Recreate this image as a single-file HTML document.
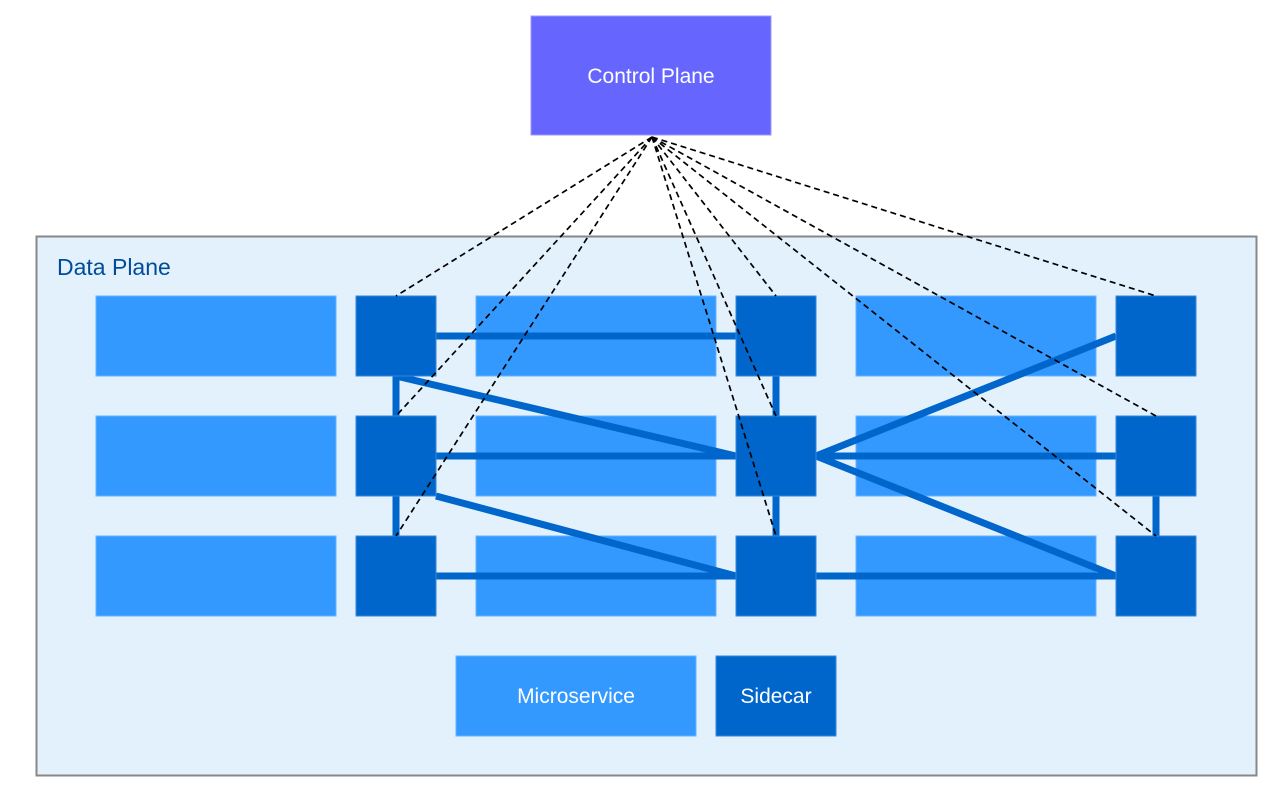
<!DOCTYPE html>
<html><head><meta charset="utf-8"><style>
body{margin:0;background:#fff;}
svg{display:block;}
text{font-family:"Liberation Sans",sans-serif;}
</style></head><body>
<svg width="1274" height="794" viewBox="0 0 1274 794" xmlns="http://www.w3.org/2000/svg">
<rect x="531" y="16" width="240" height="119" fill="#6666FF" stroke="#9999ff" stroke-width="1"/>
<text x="651" y="83" font-size="21" fill="#fff" text-anchor="middle">Control Plane</text>
<rect x="36.5" y="236.5" width="1220" height="539" fill="#E3F1FD" stroke="#888" stroke-width="2"/>
<text x="57" y="275" font-size="23" fill="#004C99">Data Plane</text>
<g fill="#3399FF" stroke="#66b3ff" stroke-width="1">
<rect x="96" y="296" width="240" height="80"/><rect x="476" y="296" width="240" height="80"/><rect x="856" y="296" width="240" height="80"/>
<rect x="96" y="416" width="240" height="80"/><rect x="476" y="416" width="240" height="80"/><rect x="856" y="416" width="240" height="80"/>
<rect x="96" y="536" width="240" height="80"/><rect x="476" y="536" width="240" height="80"/><rect x="856" y="536" width="240" height="80"/>
<rect x="456" y="656" width="240" height="80"/>
</g>
<g stroke="#0066CC" stroke-width="7" fill="none">
<line x1="436" y1="336" x2="736" y2="336"/>
<line x1="436" y1="456" x2="736" y2="456"/>
<line x1="816" y1="456" x2="1116" y2="456"/>
<line x1="436" y1="576" x2="736" y2="576"/>
<line x1="816" y1="576" x2="1116" y2="576"/>
<line x1="396" y1="376" x2="396" y2="536"/>
<line x1="776" y1="376" x2="776" y2="536"/>
<line x1="1156" y1="496" x2="1156" y2="536"/>
<line x1="396" y1="376" x2="736" y2="456"/>
<line x1="436" y1="496" x2="736" y2="576"/>
<line x1="816" y1="456" x2="1116" y2="336"/>
<line x1="816" y1="456" x2="1116" y2="576"/>
</g>
<g fill="#0066CC" stroke="#3388dd" stroke-width="1">
<rect x="356" y="296" width="80" height="80"/><rect x="736" y="296" width="80" height="80"/><rect x="1116" y="296" width="80" height="80"/>
<rect x="356" y="416" width="80" height="80"/><rect x="736" y="416" width="80" height="80"/><rect x="1116" y="416" width="80" height="80"/>
<rect x="356" y="536" width="80" height="80"/><rect x="736" y="536" width="80" height="80"/><rect x="1116" y="536" width="80" height="80"/>
<rect x="716" y="656" width="120" height="80"/>
</g>
<g stroke="#000" stroke-width="1.7" stroke-dasharray="6,4" fill="none">
<line x1="652" y1="137" x2="396" y2="296"/>
<line x1="652" y1="137" x2="396" y2="416"/>
<line x1="652" y1="137" x2="396" y2="536"/>
<line x1="652" y1="137" x2="776" y2="296"/>
<line x1="652" y1="137" x2="776" y2="416"/>
<line x1="652" y1="137" x2="776" y2="536"/>
<line x1="652" y1="137" x2="1156" y2="296"/>
<line x1="652" y1="137" x2="1156" y2="416"/>
<line x1="652" y1="137" x2="1156" y2="536"/>
</g>
<text x="576" y="703" font-size="21" fill="#fff" text-anchor="middle">Microservice</text>
<text x="776" y="703" font-size="21" fill="#fff" text-anchor="middle">Sidecar</text>
</svg>
</body></html>
